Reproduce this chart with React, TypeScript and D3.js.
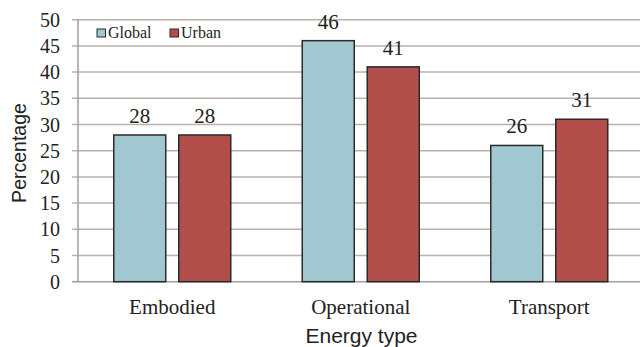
import React from "react";
import * as d3 from "d3";

const categories = ["Embodied", "Operational", "Transport"];
const seriesNames = ["Global", "Urban"];
const globalValues = [28, 46, 26];
const urbanValues = [28, 41, 31];
const yTicks = [0, 5, 10, 15, 20, 25, 30, 35, 40, 45, 50];
const seriesColors = ["#a1c7d1", "#b24f4b"];

const W = 640;
const H = 347;
const margin = { left: 78, right: -3.5, top: 19.7, bottom: 65.3 };

const serif = '"Liberation Serif", Tinos, "Times New Roman", Times, "DejaVu Serif", serif';
const sans = '"Liberation Sans", Arimo, Arial, Helvetica, sans-serif';

export default function App() {
  const x0 = d3
    .scaleBand<string>()
    .domain(categories)
    .range([margin.left, W - margin.right])
    .padding(0);
  const groupInset = (x0.bandwidth() - 117) / 2;
  const x1 = d3
    .scaleBand<string>()
    .domain(seriesNames)
    .range([groupInset, x0.bandwidth() - groupInset])
    .paddingInner(0.2);
  const y = d3.scaleLinear().domain([0, 50]).range([H - margin.bottom, margin.top]);

  const seriesValues = [globalValues, urbanValues];

  return (
    <svg
      width={W}
      height={H}
      style={{ position: "absolute", left: 0, top: 0, background: "#fff" }}
    >
      {/* gridlines and tick marks */}
      {yTicks.map((t) => (
        <g key={t}>
          <line
            x1={margin.left - 6}
            x2={W}
            y1={y(t)}
            y2={y(t)}
            stroke={t === 0 ? "#a89c98" : "#bcb0ac"}
            strokeWidth={1.5}
          />
          <text
            x={60}
            y={y(t) + 7}
            textAnchor="end"
            style={{ fontFamily: serif, fontSize: 20 }}
            fill="#222"
          >
            {t}
          </text>
        </g>
      ))}
      <line
        x1={margin.left}
        x2={margin.left}
        y1={y(50)}
        y2={y(0)}
        stroke="#a89c98"
        strokeWidth={1.5}
      />

      {/* bars and value labels */}
      {categories.map((c, ci) =>
        seriesNames.map((s, si) => {
          const v = seriesValues[si][ci];
          const bx = (x0(c) ?? 0) + (x1(s) ?? 0);
          return (
            <g key={c + s}>
              <rect
                x={bx}
                y={y(v)}
                width={x1.bandwidth()}
                height={y(0) - y(v)}
                fill={seriesColors[si]}
                stroke="#2a2a2a"
                strokeWidth={1.5}
              />
              <text
                x={bx + x1.bandwidth() / 2}
                y={y(v) - 12}
                textAnchor="middle"
                style={{ fontFamily: serif, fontSize: 21 }}
                fill="#222"
              >
                {v}
              </text>
            </g>
          );
        })
      )}

      {/* category labels */}
      {categories.map((c) => (
        <text
          key={c}
          x={(x0(c) ?? 0) + x0.bandwidth() / 2}
          y={314}
          textAnchor="middle"
          style={{ fontFamily: serif, fontSize: 21 }}
          fill="#222"
        >
          {c}
        </text>
      ))}

      {/* axis titles */}
      <text
        x={361.5}
        y={343}
        textAnchor="middle"
        style={{ fontFamily: sans, fontSize: 21 }}
        fill="#222"
      >
        Energy type
      </text>
      <text
        transform="translate(26, 153) rotate(-90)"
        textAnchor="middle"
        style={{ fontFamily: sans, fontSize: 19.5 }}
        fill="#222"
      >
        Percentage
      </text>

      {/* legend */}
      {seriesNames.map((s, si) => {
        const lx = si === 0 ? 97 : 170;
        return (
          <g key={s}>
            <rect
              x={lx}
              y={29}
              width={8.5}
              height={8}
              fill={seriesColors[si]}
              stroke="#2a2a2a"
              strokeWidth={1}
            />
            <text
              x={lx + 11}
              y={37.5}
              style={{ fontFamily: serif, fontSize: 16 }}
              fill="#222"
            >
              {s}
            </text>
          </g>
        );
      })}
    </svg>
  );
}
